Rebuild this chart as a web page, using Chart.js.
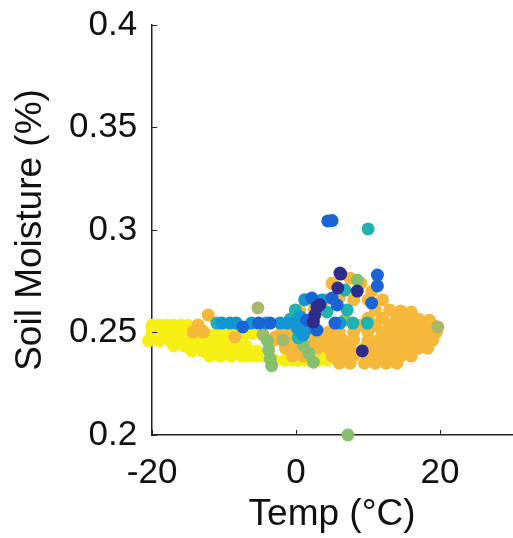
<!DOCTYPE html>
<html>
<head>
<meta charset="utf-8">
<script src="https://cdn.jsdelivr.net/npm/chart.js@4"></script>
<style>
  body { margin: 0; background: #fff; }
  canvas { display: block; }
</style>
</head>
<body>
<canvas id="chart" width="513" height="538"></canvas>
<script>
// axis ticks
var xTicks = [-20, 0, 20];
var yTicks = [0.2, 0.25, 0.3, 0.35, 0.4];

// points, grouped by colour [temp, soil moisture]
var navyPts = [[6.2, 0.2785], [6.1, 0.279], [5.8, 0.2717], [8.5, 0.2702], [2.9, 0.2625],
  [2.6, 0.2585], [2.4, 0.2551], [3.3, 0.2635], [9.2, 0.241]];
var bluePts = [[4.4, 0.3044], [5.0, 0.3046], [-7.4, 0.2527], [-5.2, 0.2546], [-3.6, 0.2546],
  [2.2, 0.2668], [2.9, 0.2512], [5.0, 0.2668], [11.3, 0.278], [11.3, 0.2727], [10.5, 0.2644],
  [5.7, 0.2634], [5.4, 0.2546], [1.5, 0.256]];
var lightbluePts = [[-10.3, 0.2546], [-9.2, 0.2546], [-8.3, 0.2546], [-6.2, 0.2546], [-4.2, 0.2546],
  [-2.2, 0.2546], [-1.2, 0.2546], [-0.2, 0.2546], [0.6, 0.2576], [1.0, 0.2488], [1.9, 0.2522],
  [6.1, 0.2546], [3.6, 0.2659], [1.2, 0.266], [0.2, 0.252]];
var tealPts = [[10.0, 0.3005], [7.9, 0.2546], [9.9, 0.2546], [4.3, 0.26], [7.1, 0.261],
  [-0.8, 0.2565], [-0.1, 0.261], [6.8, 0.2707], [-11.0, 0.2546], [0.3, 0.2475]];
var greenPts = [[7.2, 0.2], [-4.0, 0.246], [-3.8, 0.2415], [-3.6, 0.2372], [-3.4, 0.2338],
  [1.0, 0.2439], [1.8, 0.2398], [2.4, 0.2355], [6.8, 0.256], [8.5, 0.2756]];
var olivePts = [[-5.3, 0.262], [-1.8, 0.2463], [19.7, 0.2527], [-4.6, 0.249]];
var orangePts = [
  [-12.2, 0.2585], [-13.6, 0.2537], [-14.3, 0.2502], [-12.9, 0.2502], [-8.5, 0.2478], [-2.9, 0.2478],
  [5, 0.274], [7.5, 0.2765], [9, 0.274], [10.5, 0.27], [4, 0.266], [6, 0.267], [8, 0.266], [10, 0.266], [12, 0.266],
  [0.5, 0.261], [2.5, 0.2615], [11, 0.261], [13, 0.261], [14.5, 0.2605], [16, 0.26],
  [-0.5, 0.257], [10, 0.257], [12, 0.257], [14, 0.257], [15.5, 0.257], [17, 0.2565], [18.5, 0.256],
  [9, 0.2537], [11, 0.2537], [13, 0.2537], [14.5, 0.2537], [16, 0.2537], [17.5, 0.2537], [19, 0.2537],
  [-2, 0.2502], [-0.5, 0.2502], [1, 0.2502], [2.5, 0.2502], [4.5, 0.2502], [6, 0.2502], [8, 0.2502],
  [10, 0.2502], [12, 0.2502], [13.5, 0.2502], [15, 0.2502], [16.5, 0.2502], [18, 0.2502], [19.5, 0.2502],
  [-3, 0.2463], [-1, 0.2463], [0.5, 0.2463], [2, 0.2463], [3.5, 0.2463], [5, 0.2463], [6.5, 0.2463],
  [8, 0.2463], [10, 0.2463], [11.5, 0.2463], [13, 0.2463], [14.5, 0.2463], [16, 0.2463], [17.5, 0.2463], [19, 0.2463],
  [-1.5, 0.2424], [0, 0.2424], [1.5, 0.2424], [3, 0.2424], [4.5, 0.2424], [6, 0.2424], [7.5, 0.2424],
  [9.5, 0.2424], [11, 0.2424], [12.5, 0.2424], [14, 0.2424], [15.5, 0.2424], [17, 0.2424], [18.3, 0.2424],
  [-0.5, 0.2385], [1, 0.2385], [5, 0.2385], [6.5, 0.2385], [8, 0.2385], [10, 0.2385], [11.5, 0.2385],
  [13, 0.2385], [14.5, 0.2385], [16, 0.2385],
  [6, 0.235], [7.5, 0.235], [9.5, 0.235], [11, 0.235], [12.5, 0.235], [14, 0.235]];
var yellowPts = [
  [-21, 0.2535], [-20, 0.2535], [-19, 0.2535], [-18, 0.2535], [-17, 0.2535], [-16, 0.2535], [-15, 0.2535],
  [-21, 0.251], [-20, 0.251], [-19, 0.251], [-18, 0.251], [-17, 0.251], [-16, 0.251], [-15, 0.251], [-14, 0.251], [-13, 0.251],
  [-21, 0.2485], [-20, 0.2485], [-19, 0.2485], [-18, 0.2485], [-17, 0.2485], [-16, 0.2485], [-15, 0.2485],
  [-14, 0.2485], [-13, 0.2485], [-12, 0.2485], [-11, 0.2495], [-10, 0.2495], [-9, 0.2495], [-8, 0.2495], [-7, 0.2495], [-6, 0.2495],
  [-20.5, 0.246], [-19, 0.246], [-17.5, 0.246], [-16.5, 0.246], [-15.5, 0.246], [-14.5, 0.246], [-13.5, 0.246],
  [-12.5, 0.246], [-11.5, 0.246], [-10.5, 0.246], [-9.5, 0.246], [-8.5, 0.246],
  [-17, 0.2435], [-15.5, 0.2435], [-14, 0.2435], [-12.5, 0.2435], [-11, 0.2435], [-10, 0.2435], [-9, 0.2435], [-8, 0.2435], [-7, 0.2435],
  [-14.5, 0.241], [-13, 0.241], [-11.5, 0.241], [-10.5, 0.241], [-9.5, 0.241], [-8.5, 0.241], [-7.5, 0.241], [-6.5, 0.241], [-5.5, 0.241],
  [-12, 0.2385], [-10.5, 0.2385], [-9, 0.2385], [-7.5, 0.2385], [-6.5, 0.2385], [-5.5, 0.2385], [-4.5, 0.2385],
  [-3, 0.2365], [-1.5, 0.2365], [-0.5, 0.2365], [0.3, 0.2365], [1.2, 0.2365], [3.2, 0.2365], [4.3, 0.2365],
  [0.5, 0.2385], [4, 0.2385]];

var groupPts = [navyPts, bluePts, lightbluePts, tealPts, greenPts, olivePts, orangePts, yellowPts];
var groupColors = ['#2e2d8c', '#1a64d6', '#1596d4', '#1fb2b0', '#86c06e', '#a8b76a', '#f5b83a', '#f6ef14'];

var inwardTicks = {
  id: 'inwardTicks',
  afterDraw: function(chart) {
    var ctx = chart.ctx;
    var area = chart.chartArea;
    var xs = chart.scales.x;
    var ys = chart.scales.y;
    ctx.save();
    ctx.strokeStyle = '#222';
    ctx.lineWidth = 1;
    xs.ticks.forEach(function(t) {
      var px = Math.round(xs.getPixelForValue(t.value)) + 0.5;
      ctx.beginPath();
      ctx.moveTo(px, area.bottom);
      ctx.lineTo(px, area.bottom - 5);
      ctx.stroke();
    });
    ys.ticks.forEach(function(t) {
      var py = Math.round(ys.getPixelForValue(t.value)) + 0.5;
      ctx.beginPath();
      ctx.moveTo(area.left, py);
      ctx.lineTo(area.left + 5, py);
      ctx.stroke();
    });
    ctx.restore();
  }
};

window.addEventListener('load', init);

function init() {
  var datasets = groupPts.map(function(pts, i) {
    return {
      data: pts.map(function(p) { return {x: p[0], y: p[1]}; }),
      backgroundColor: groupColors[i],
      borderWidth: 0,
      pointRadius: 6.5,
      clip: false
    };
  });

  new Chart(id('chart'), {
    type: 'scatter',
    data: { datasets: datasets },
    plugins: [inwardTicks],
    options: {
      responsive: false,
      animation: false,
      events: [],
      layout: { autoPadding: false, padding: { left: 9, top: 0, right: 1, bottom: 0 } },
      plugins: { legend: { display: false }, tooltip: { enabled: false } },
      scales: {
        x: {
          type: 'linear',
          min: -20,
          max: 30,
          afterBuildTicks: function(axis) {
            axis.ticks = xTicks.map(function(v) { return {value: v}; });
          },
          grid: { display: false, drawTicks: false },
          border: { display: true, color: '#222', width: 1.5 },
          ticks: {
            padding: 17.5,
            color: '#111',
            maxRotation: 0,
            font: { family: "'Liberation Sans', Arial, sans-serif", size: 35 },
            callback: function(v) { return String(v); }
          },
          title: {
            display: true,
            text: 'Temp (°C)',
            color: '#111',
            padding: { top: -19.4, bottom: 1 },
            font: { family: "'Liberation Sans', Arial, sans-serif", size: 37 }
          }
        },
        y: {
          type: 'linear',
          min: 0.2,
          max: 0.4,
          afterBuildTicks: function(axis) {
            axis.ticks = yTicks.map(function(v) { return {value: v}; });
          },
          grid: { display: false, drawTicks: false },
          border: { display: true, color: '#222', width: 1.5 },
          ticks: {
            padding: 15,
            color: '#111',
            font: { family: "'Liberation Sans', Arial, sans-serif", size: 35, lineHeight: 0.57 },
            callback: function(v) { return String(v); }
          },
          title: {
            display: true,
            text: 'Soil Moisture (%)',
            color: '#111',
            padding: { top: 0, bottom: 0.6 },
            font: { family: "'Liberation Sans', Arial, sans-serif", size: 37 }
          }
        }
      }
    }
  });
}

function id(id) {
  return document.getElementById(id);
}
</script>
</body>
</html>
